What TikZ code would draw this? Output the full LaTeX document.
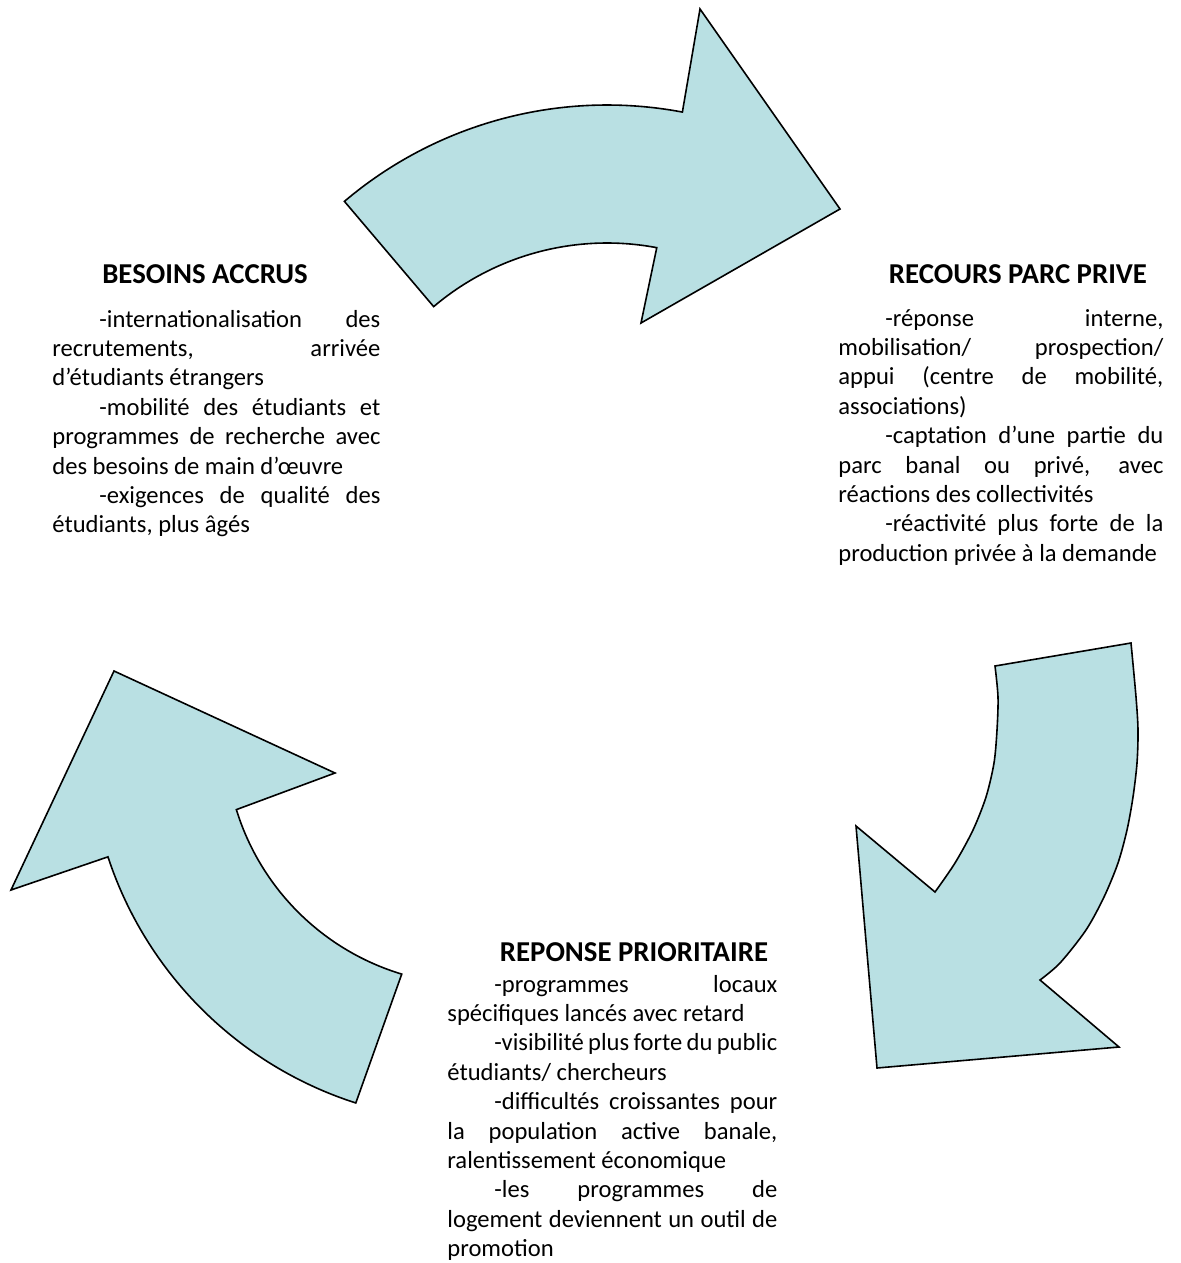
\documentclass[tikz,border=0pt]{standalone}
\usepackage{fontspec}
\setmainfont{Carlito}
\definecolor{bleuclair}{RGB}{185,224,227}

% one dash item of a block, indented first line
\newcommand{\tiret}[1]{\noindent\hspace*{23.5pt}-#1\par}

\begin{document}
\begin{tikzpicture}[
  x=0.5pt, y=-0.5pt,
  cyclearrow/.style={draw=black, line width=0.8pt, fill=bleuclair, line join=miter},
  heading/.style={anchor=base, inner sep=0pt,
    font=\fontsize{14.4}{17}\selectfont\bfseries},
  bodytext/.style={anchor=base west, inner sep=0pt, text width=165pt,
    align=justify, font=\fontsize{12.3}{14.7}\selectfont}
]
  \useasboundingbox (0,0) rectangle (1181,1263);

  %% centres of the bent arrows (y grows downwards, so angles turn clockwise)
  \coordinate (topc)  at (607,511);
  \coordinate (leftc) at (473.4,736.7);

  %% the three curved arrows of the cycle
  \draw[cyclearrow] ([shift={(-130.3:406)}]topc) arc[start angle=-130.3, end angle=-79.3, radius=406]
    -- (700,9) -- (840,209) -- (641,323)
    -- ([shift={(-79.3:268)}]topc) arc[start angle=-79.3, end angle=-130.3, radius=268] -- cycle;

  \draw[cyclearrow] (995,666) -- (1131,643)
    -- plot[smooth] coordinates {(1131,643) (1136,697) (1138,730) (1137,763) (1133,797)
      (1127,830) (1118,863) (1104,897) (1086,930) (1060,963) (1040,980)}
    -- (1119,1047) -- (877,1068) -- (856,826) -- (935,892)
    -- plot[smooth] coordinates {(935,892) (955,863) (973,830) (986,797) (994,763)
      (997,730) (998,697) (995,666)} -- cycle;

  \draw[cyclearrow] (114,671) -- (335,773)
    -- ([shift={(-197.1:248)}]leftc) arc[start angle=-197.1, end angle=-253.2, radius=248]
    -- ([shift={(-252.2:384.7)}]leftc) arc[start angle=-252.2, end angle=-198.2, radius=384.7]
    -- (11,890) -- cycle;

  %% headings
  \node[heading] (besoinstitle) at (205,283)  {BESOINS ACCRUS};
  \node[heading] (recourstitle) at (1018,283) {RECOURS PARC PRIVE};
  \node[heading] (reponsetitle) at (634,961)  {REPONSE PRIORITAIRE};

  %% blocks of text
  \node[bodytext, text width=164pt] (besoins) at (52,327) {%
    \tiret{internationalisation des\linebreak recrutements, arrivée\linebreak
      d’étudiants étrangers}
    \tiret{mobilité des étudiants et\linebreak programmes de recherche avec\linebreak
      des besoins de main d’œuvre}
    \tiret{exigences de qualité des\linebreak étudiants, plus âgés}};

  \node[bodytext, text width=162.5pt] (recours) at (838,326) {%
    \tiret{réponse interne,\linebreak mobilisation/ prospection/\linebreak
      appui (centre de mobilité,\linebreak associations)}
    \tiret{captation d’une partie du\linebreak parc banal ou privé, avec\linebreak
      réactions des collectivités}
    \tiret{réactivité plus forte de la\linebreak production privée à la demande}};

  \node[bodytext] (reponse) at (447,992) {%
    \tiret{programmes locaux\linebreak spécifiques lancés avec retard}
    \tiret{visibilité plus forte du public\linebreak étudiants/ chercheurs}
    \tiret{difficultés croissantes pour\linebreak la population active banale,\linebreak
      ralentissement économique}
    \tiret{les programmes de\linebreak logement deviennent un outil de\linebreak
      promotion}};
\end{tikzpicture}
\end{document}
